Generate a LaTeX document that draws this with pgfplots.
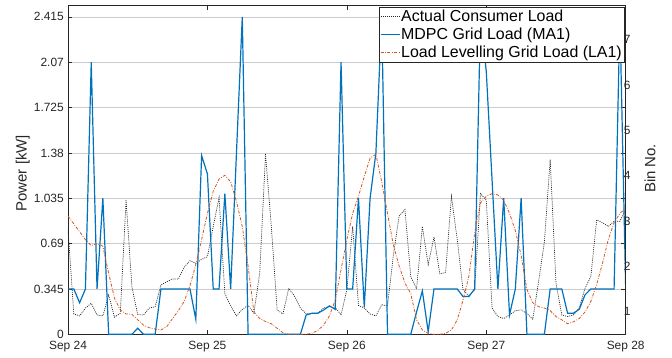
\documentclass[border=0pt]{standalone}
\usepackage{fontspec}
\setmainfont{Liberation Sans}
\usepackage{pgfplots}
\pgfplotsset{compat=1.18}
\usepackage{pgfplotstable}

\definecolor{mablue}{rgb}{0,0.447,0.741}
\definecolor{mared}{rgb}{0.85,0.325,0.098}
\definecolor{axgray}{rgb}{0.15,0.15,0.15}
\definecolor{gridgray}{rgb}{0.80,0.80,0.80}

% hourly values, Sep 24 00:00 (h=0) to Sep 28 00:00 (h=96), in kW
\pgfplotstableread{
h  actual mdpc  lev
0  0.80   0.345 0.90
1  0.155  0.345 0.84
2  0.14   0.24  0.78
3  0.20   0.345 0.72
4  0.236  2.07  0.675
5  0.147  0.345 0.69
6  0.14   1.035 0.67
7  0.30   0     0.465
8  0.13   0     0.275
9  0.16   0     0.185
10 1.02   0     0.155
11 0.36   0     0.152
12 0.15   0.046 0.11
13 0.147  0     0.07
14 0.20   0     0.05
15 0.21   0     0.04
16 0.376  0.345 0.033
17 0.40   0.345 0.058
18 0.42   0.345 0.12
19 0.42   0.345 0.18
20 0.51   0.345 0.25
21 0.56   0.345 0.37
22 0.54   0.114 0.53
23 0.57   1.36  0.72
24 0.59   1.22  0.92
25 0.82   0.345 1.09
26 1.04   0.345 1.18
27 0.31   1.07  1.21
28 0.216  0.345 1.16
29 0.14   1.38  1.01
30 0.19   2.415 0.82
31 0.22   0     0.52
32 0.16   0     0.17
33 0.465  0     0.12
34 1.37   0     0.097
35 0.82   0     0.08
36 0.185  0     0.046
37 0.155  0     0.013
38 0.35   0     0
39 0.29   0     0
40 0.20   0     0
41 0.155  0.147 0
42 0.16   0.16  0.008
43 0.16   0.16  0.03
44 0.20   0.185 0.07
45 0.21   0.216 0.14
46 0.205  0.19  0.26
47 0.147  2.07  0.49
48 0.34   0.345 0.72
49 0.82   0.345 0.92
50 0.22   1.035 1.05
51 0.20   0.205 1.20
52 0.155  1.035 1.34
53 0.14   1.38  1.37
54 0.225  2.415 1.16
55 0.215  0     0.92
56 0.60   0     0.68
57 0.90   0     0.52
58 0.95   0     0.39
59 0.44   0     0.31
60 0.345  0.17  0.11
61 0.82   0.33  0.033
62 0.53   0.02  0.008
63 0.74   0.345 0
64 0.46   0.345 0
65 0.47   0.345 0.008
66 1.05   0.345 0.033
67 0.72   0.345 0.11
68 0.34   0.287 0.26
69 0.29   0.287 0.44
70 0.34   0.345 0.77
71 1.07   2.415 1.00
72 1.02   2.00  1.05
73 0.20   1.17  1.07
74 0.135  0.345 1.06
75 0.12   1.035 1.02
76 0.147  0.147 0.92
77 0.18   0.345 0.79
78 0.185  1.035 0.60
79 0.16   0     0.34
80 0.115  0     0.24
81 0.40   0     0.21
82 0.70   0     0.20
83 1.33   0.345 0.18
84 0.39   0.345 0.135
85 0.147  0.345 0.11
86 0.135  0.16  0.08
87 0.147  0.16  0.095
88 0.20   0.19  0.12
89 0.35   0.30  0.17
90 0.44   0.345 0.25
91 0.87   0.345 0.38
92 0.85   0.345 0.54
93 0.82   0.345 0.72
94 0.86   0.345 0.85
95 0.86   2.415 0.92
96 0.95   0.345 0.96
}\loadtable

\pgfplotsset{
  common/.style={
    scale only axis, width=557.7bp, height=328.6bp,
    xmin=0, xmax=96,
    axis line style={axgray, line width=0.6bp},
    tick style={axgray, line width=0.6bp},
    major tick length=4.5bp,
    tick align=inside,
    /pgf/number format/assume math mode=true,
    tick label style={font=\fontsize{12}{14}\selectfont, text=axgray, inner sep=1bp},
    xticklabel style={yshift=-5.5bp},
    yticklabel style={xshift=-3bp},
    label style={font=\fontsize{15}{17}\selectfont, text=axgray},
  }
}

\begin{document}
\begin{tikzpicture}
\begin{axis}[
  common,
  ymin=0, ymax=2.5,
  xtick={0,24,48,72,96},
  xticklabels={Sep 24,Sep 25,Sep 26,Sep 27,Sep 28},
  xtick pos=both,
  ytick={0,0.345,0.69,1.035,1.38,1.725,2.07,2.415},
  yticklabels={0,0.345,0.69,1.035,1.38,1.725,2.07,2.415},
  ytick pos=both,
  ymajorgrids,
  grid style={gridgray, line width=0.6bp},
  ylabel={Power [kW]},
  ylabel style={at={(axis description cs:-0.081,0.49)}, anchor=center},
  legend cell align=left,
  legend style={
    at={(rel axis cs:0.997,0.997)}, anchor=north east,
    font=\fontsize{16}{17}\selectfont, text=black,
    draw=axgray, fill=white,
    inner xsep=1bp, inner ysep=2bp, row sep=3bp,
    nodes={inner sep=1bp},
    /tikz/every odd column/.append style={column sep=0bp},
  },
  legend image code/.code={\draw[#1] (0bp,0bp) -- (19bp,0bp);},
]
\addplot[draw=black!85, line width=0.7bp, dash pattern=on 1bp off 1.1bp] table[x=h, y=actual] {\loadtable};
\addlegendentry{Actual Consumer Load}
\addplot[draw=mablue, line width=1.2bp] table[x=h, y=mdpc] {\loadtable};
\addlegendentry{MDPC Grid Load (MA1)}
\addplot[draw=mared, line width=0.8bp, dash pattern=on 3bp off 1.5bp on 0.8bp off 1.5bp] table[x=h, y=lev] {\loadtable};
\addlegendentry{Load Levelling Grid Load (LA1)}
\end{axis}

\begin{axis}[
  common,
  ymin=0.5, ymax=7.7464,
  axis x line=none,
  axis y line*=right,
  ytick={1,2,3,4,5,6,7},
  major tick length=0bp,
  ylabel={Bin No.},
  ylabel style={at={(axis description cs:1.0436,0.505)}, anchor=center},
]
\end{axis}

\pgfresetboundingbox
\path[use as bounding box] (-68bp,-23.7bp) rectangle (604bp,334.3bp);
\end{tikzpicture}
\end{document}
